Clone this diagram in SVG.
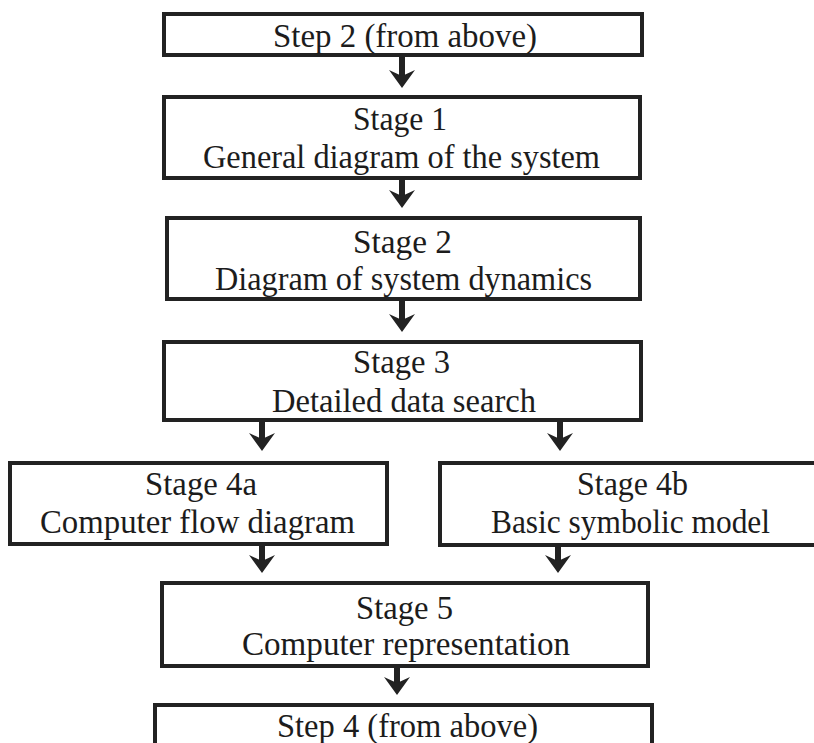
<svg xmlns="http://www.w3.org/2000/svg" width="814" height="743" viewBox="0 0 814 743">
<style>
.box{fill:#fff;stroke:#222;stroke-width:4}
.t{font-family:"Liberation Serif","Times New Roman",serif;font-size:33px;fill:#1c1c1c;text-anchor:middle}
.c{stroke:#222;stroke-width:6;fill:none;marker-end:url(#ah)}
</style>
<defs>
<marker id="ah" markerUnits="userSpaceOnUse" viewBox="-1 -15 21 30" refX="8" refY="0" markerWidth="21" markerHeight="30" orient="auto">
<path d="M0,-13 L18,0 L0,13 L6,0 Z" fill="#222"/>
</marker>
</defs>
<rect width="814" height="743" fill="#fff"/>
<g id="connectors">
<path class="c" d="M402,55 V78"/>
<path class="c" d="M402,178 V198"/>
<path class="c" d="M402,299 V322"/>
<path class="c" d="M262,420 V441"/>
<path class="c" d="M560,420 V441"/>
<path class="c" d="M262,544 V563"/>
<path class="c" d="M558,545 V563"/>
<path class="c" d="M397,666 V685"/>
</g>
<g id="step2">
<rect class="box" x="164" y="14" width="478" height="41"/>
<text class="t" x="405" y="47" textLength="264" lengthAdjust="spacingAndGlyphs">Step 2 (from above)</text>
</g>
<g id="stage1">
<rect class="box" x="164" y="97" width="476" height="81"/>
<text class="t" x="400" y="130" textLength="94" lengthAdjust="spacingAndGlyphs">Stage 1</text>
<text class="t" x="401.5" y="168" textLength="397" lengthAdjust="spacingAndGlyphs">General diagram of the system</text>
</g>
<g id="stage2">
<rect class="box" x="167" y="218" width="473" height="81"/>
<text class="t" x="402.5" y="253" textLength="99" lengthAdjust="spacingAndGlyphs">Stage 2</text>
<text class="t" x="403.5" y="290" textLength="377" lengthAdjust="spacingAndGlyphs">Diagram of system dynamics</text>
</g>
<g id="stage3">
<rect class="box" x="164" y="342" width="477" height="78"/>
<text class="t" x="401.5" y="373" textLength="97" lengthAdjust="spacingAndGlyphs">Stage 3</text>
<text class="t" x="404" y="412" textLength="264" lengthAdjust="spacingAndGlyphs">Detailed data search</text>
</g>
<g id="stage4a">
<rect class="box" x="10" y="463" width="377" height="81"/>
<text class="t" x="201" y="495" textLength="112" lengthAdjust="spacingAndGlyphs">Stage 4a</text>
<text class="t" x="197.5" y="533" textLength="315" lengthAdjust="spacingAndGlyphs">Computer flow diagram</text>
</g>
<g id="stage4b">
<rect class="box" x="440" y="463" width="380" height="82"/>
<text class="t" x="632.5" y="495" textLength="111" lengthAdjust="spacingAndGlyphs">Stage 4b</text>
<text class="t" x="630.5" y="533" textLength="279" lengthAdjust="spacingAndGlyphs">Basic symbolic model</text>
</g>
<g id="stage5">
<rect class="box" x="162" y="583" width="486" height="83"/>
<text class="t" x="404.5" y="619" textLength="97" lengthAdjust="spacingAndGlyphs">Stage 5</text>
<text class="t" x="406" y="655" textLength="328" lengthAdjust="spacingAndGlyphs">Computer representation</text>
</g>
<g id="step4">
<rect class="box" x="155" y="705" width="497" height="50"/>
<text class="t" x="407.5" y="737" textLength="261" lengthAdjust="spacingAndGlyphs">Step 4 (from above)</text>
</g>
</svg>
